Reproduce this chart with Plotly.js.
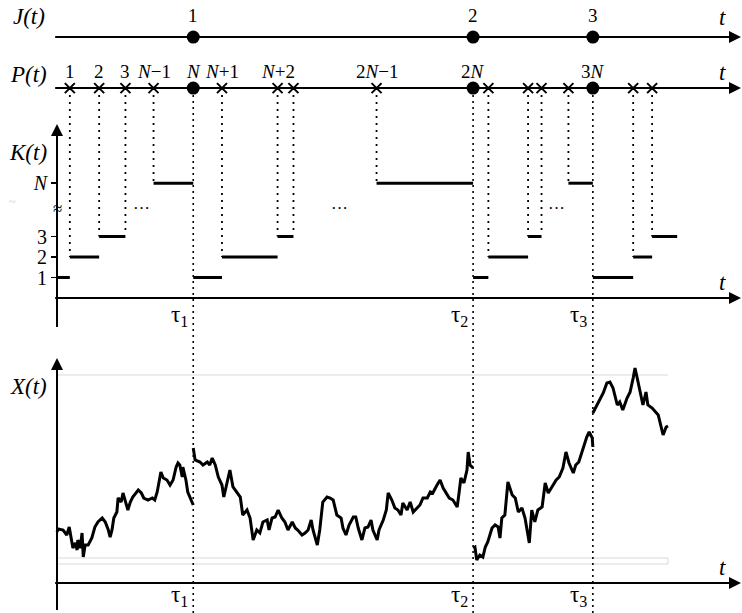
<!DOCTYPE html>
<html><head><meta charset="utf-8">
<script src="https://cdn.plot.ly/plotly-3.0.1.min.js"></script>
<style>html,body{margin:0;padding:0;background:#fff;}#chart{width:742px;height:613px;}</style>
</head><body><div id="chart"></div>
<script>
// ================= DATA =================
// J(t): renewal epochs tau_1..tau_3 (time units, 0..100 = span of X path)
const tauTimes = [22.3, 68.1, 87.7];
const jLabels = ['1', '2', '3'];
// P(t): all point-process events
const pTimes = [2.1, 6.9, 11.2, 15.8, 22.3, 27.0, 36.1, 38.7, 52.3, 68.1, 70.6, 77.1, 79.3, 83.7, 87.7, 94.3, 97.4];
const pLabels = ['1', '2', '3', '<i>N</i>−1', '<i>N</i>', '<i>N</i>+1', '<i>N</i>+2', '', '2<i>N</i>−1', '2<i>N</i>', '', '', '', '', '3<i>N</i>', '', ''];
// K(t): counter steps
const kStart = [0, 2.1, 6.9, 15.8, 22.3, 27.0, 36.1, 52.3, 68.1, 70.6, 77.1, 83.7, 87.7, 94.3, 97.4];
const kEnd   = [2.1, 6.9, 11.2, 22.3, 27.0, 36.1, 38.7, 68.1, 70.6, 77.1, 79.3, 87.7, 94.3, 97.4, 101.5];
const kLevel = ['1', '2', '3', 'N', '1', '2', '3', 'N', '1', '2', '3', 'N', '1', '2', '3'];
const kTickLabels = ['1', '2', '3', 'N'];
const ellipsisTimes = [13.9, 46.3, 81.8];
// X(t): sample path (null = restart at tau)
const pathT = [
 0,0.2,1.0,1.6,2.0,2.3,2.6,3.0,3.3,3.4,3.8,4.1,4.3,4.6,5.1,5.7,6.2,6.7,7.4,7.9,8.4,8.7,9.0,9.3,9.8,10.0,10.5,10.8,11.3,11.6,12.0,12.4,13.3,13.8,14.2,14.9,15.6,16.0,16.4,16.7,17.0,17.4,18.0,18.5,19.0,19.5,19.8,20.1,20.5,20.6,21.1,21.4,22.1,22.3,
 null,
 22.3,22.6,23.4,23.9,24.6,25.0,25.4,25.9,26.4,27.0,27.3,27.7,28.3,28.8,29.5,30.0,30.4,31.1,31.6,32.1,32.7,33.2,33.7,34.4,34.7,35.2,35.7,36.2,36.8,37.3,37.8,38.5,39.0,39.4,40.1,40.6,41.1,41.6,41.9,42.6,43.0,43.5,44.2,44.7,45.2,45.8,46.5,46.8,47.3,47.8,48.5,48.9,49.3,49.9,50.4,50.9,51.4,51.7,52.4,52.7,53.4,53.9,54.2,54.8,55.3,55.8,56.3,56.6,57.3,57.8,58.3,58.9,59.4,59.9,60.6,61.1,61.5,62.2,62.7,63.2,63.7,64.2,64.8,65.5,65.8,66.1,66.6,67.1,67.3,67.6,68.1,
 null,
 68.1,68.4,68.7,69.2,69.7,70.1,70.5,71.2,71.7,72.2,72.5,72.8,73.3,73.8,74.5,75.0,75.5,76.1,76.6,77.3,77.7,78.2,78.7,79.4,79.9,80.4,81.0,81.7,82.2,82.8,83.3,83.8,84.5,84.9,85.4,86.1,86.7,87.1,87.6,87.7,
 null,
 87.7,88.4,88.9,89.4,90.0,90.5,91.0,91.7,92.1,92.6,93.3,93.8,94.3,94.6,95.1,95.6,95.9,96.4,96.7,97.4,97.9,98.4,99.2,99.7,100.0
];
const pathX = [
 2.55,2.70,2.65,2.40,2.80,2.15,1.75,2.00,1.65,2.15,1.75,2.50,1.30,1.90,1.90,2.25,2.80,3.05,3.25,3.05,2.65,2.30,2.65,3.25,3.55,4.25,4.05,4.50,3.90,3.65,4.05,4.30,4.65,4.50,4.25,4.15,4.25,4.15,4.55,5.00,5.55,5.25,5.15,4.90,5.15,5.80,6.00,5.90,5.30,5.80,5.15,4.55,4.00,3.90,
 null,
 6.75,6.15,6.05,5.90,6.05,5.90,6.25,5.90,5.30,4.90,4.30,4.90,5.65,4.80,4.50,4.30,3.40,3.65,3.25,2.15,2.65,2.50,3.05,3.15,2.65,3.25,3.30,3.65,3.25,3.05,2.65,3.05,2.75,2.65,2.40,2.50,2.65,3.15,2.65,1.90,2.65,4.05,4.30,4.25,4.15,3.40,3.25,2.75,2.40,2.90,3.30,3.30,2.75,2.15,2.75,2.80,3.15,2.65,2.15,2.65,3.15,3.65,4.50,4.15,3.75,3.65,3.40,4.00,3.65,4.05,3.55,3.75,3.90,4.25,4.25,4.55,4.50,4.90,5.15,4.75,4.50,4.25,4.15,3.80,4.50,5.25,5.00,5.65,6.55,5.90,5.75,
 null,
 1.75,1.80,1.15,1.40,1.30,1.80,2.05,2.75,2.90,2.80,2.25,3.25,3.40,5.05,4.40,4.25,3.55,3.75,3.25,2.00,3.65,3.05,3.65,3.80,5.00,4.50,4.80,5.15,5.30,5.75,6.55,6.00,5.50,5.90,6.05,6.75,7.30,7.55,7.25,6.80,
 null,
 8.50,8.90,9.25,9.50,10.00,10.05,9.75,8.90,9.05,8.65,9.25,9.55,10.25,10.75,10.05,9.25,8.90,9.55,8.90,8.75,8.55,8.40,7.40,7.80,7.85
];

// ================= LAYOUT CONSTANTS (positions / styles) =================
const FONT = 'Liberation Serif, Times New Roman, serif';
const BLACK = '#000';
const levelPos = {'1': 1, '2': 2, '3': 3, 'N': 5.6};
const rowP = 10.24, rowJ = 12.73;          // rows on the top axis
const breakLevel = 4.39;                   // axis break / ellipsis height
const xRange = [-9.329, 112.111];
const topDom = [0.46166, 1], topRange = [-1.561, 14.537];
const botDom = [0, 0.46166], botRange = [-1.5, 12.65];
const axisStart = -0.3, axisTip = 111.95;
const kAxisTop = 8.49, kAxisBottom = -1.41, xAxisTop = 11.25, xAxisBottom = -1.35;
const bandTop = 10.4, bandLow1 = 1.25, bandLow2 = 0.95, bandEnd = 100;

function topPaper(v) {
  return topDom[0] + (v - topRange[0]) / (topRange[1] - topRange[0]) * (topDom[1] - topDom[0]);
}

// ================= TRACES =================
const kx = [], ky = [];
kStart.forEach((s, i) => { const l = levelPos[kLevel[i]]; kx.push(s, kEnd[i], null); ky.push(l, l, null); });

const dx = [], dy = [];
pTimes.forEach(t => {
  if (tauTimes.includes(t)) return;
  let idx = kStart.indexOf(t), lvl;
  if (idx >= 0) lvl = levelPos[kLevel[idx]];
  else { idx = kEnd.indexOf(t); lvl = levelPos[kLevel[idx]] + 0.32; }
  dx.push(t, t, null); dy.push(rowP, lvl, null);
});

const crossT = pTimes.filter(t => !tauTimes.includes(t));
const axLine = {color: BLACK, width: 2};

const traces = [
  // axis lines
  {x: [axisStart, axisTip - 1, null, axisStart, axisTip - 1, null, axisStart, axisTip - 1, null, 0, 0],
   y: [rowJ, rowJ, null, rowP, rowP, null, 0, 0, null, kAxisBottom, kAxisTop - 0.3],
   xaxis: 'x', yaxis: 'y', mode: 'lines', line: axLine, hoverinfo: 'skip'},
  {x: [axisStart, axisTip - 1, null, 0, 0], y: [0, 0, null, xAxisBottom, xAxisTop - 0.3],
   xaxis: 'x', yaxis: 'y2', mode: 'lines', line: axLine, hoverinfo: 'skip'},
  // arrowheads
  {x: [axisTip, axisTip, axisTip], y: [rowJ, rowP, 0], xaxis: 'x', yaxis: 'y', mode: 'markers',
   marker: {symbol: 'arrow-right', size: 12, color: BLACK, line: {width: 0}}, hoverinfo: 'skip'},
  {x: [axisTip], y: [0], xaxis: 'x', yaxis: 'y2', mode: 'markers',
   marker: {symbol: 'arrow-right', size: 12, color: BLACK, line: {width: 0}}, hoverinfo: 'skip'},
  {x: [0], y: [kAxisTop], xaxis: 'x', yaxis: 'y', mode: 'markers',
   marker: {symbol: 'arrow-up', size: 12, color: BLACK, line: {width: 0}}, hoverinfo: 'skip'},
  {x: [0], y: [xAxisTop], xaxis: 'x', yaxis: 'y2', mode: 'markers',
   marker: {symbol: 'arrow-up', size: 12, color: BLACK, line: {width: 0}}, hoverinfo: 'skip'},
  // data
  {x: dx, y: dy, xaxis: 'x', yaxis: 'y', mode: 'lines', line: {color: BLACK, width: 1.8, dash: '2px,5px'}, hoverinfo: 'skip'},
  {x: kx, y: ky, xaxis: 'x', yaxis: 'y', mode: 'lines', line: {color: BLACK, width: 3}, hoverinfo: 'skip'},
  {x: pathT, y: pathX, xaxis: 'x', yaxis: 'y2', mode: 'lines', connectgaps: false, line: {color: BLACK, width: 3}, hoverinfo: 'skip'},
  {x: tauTimes, y: tauTimes.map(() => rowJ), xaxis: 'x', yaxis: 'y', mode: 'markers', marker: {symbol: 'circle', size: 13, color: BLACK}, hoverinfo: 'skip'},
  {x: tauTimes, y: tauTimes.map(() => rowP), xaxis: 'x', yaxis: 'y', mode: 'markers', marker: {symbol: 'circle', size: 13, color: BLACK}, hoverinfo: 'skip'},
  {x: crossT, y: crossT.map(() => rowP), xaxis: 'x', yaxis: 'y', mode: 'markers', marker: {symbol: 'x-thin-open', size: 10, color: BLACK, line: {color: BLACK, width: 2}}, hoverinfo: 'skip'}
];

// ================= ANNOTATIONS =================
const ann = [];
function label(text, x, y, yref, size, opts, italic) {
  ann.push(Object.assign({x: x, y: y, xref: 'x', yref: yref, text: text, showarrow: false,
    font: {family: FONT, size: size, color: BLACK, style: italic ? 'italic' : 'normal'}}, opts || {}));
}
// row titles
label('J(t)', -4.6, rowJ, 'y', 23, {yshift: 21}, true);
label('P(t)', -4.6, rowP, 'y', 23, {yshift: 14}, true);
label('K(t)', -4.8, 7.12, 'y', 23, {}, true);
label('X(t)', -4.7, 9.85, 'y2', 23, {}, true);
// t labels
label('t', 108.9, rowJ, 'y', 23, {yshift: 20}, true);
label('t', 108.9, rowP, 'y', 23, {yshift: 16}, true);
label('t', 108.9, 0.78, 'y', 23, {}, true);
label('t', 108.9, 0.8, 'y2', 23, {}, true);
// J numbers
tauTimes.forEach((t, i) => label(jLabels[i], t, rowJ, 'y', 19, {yshift: 22}));
// P numbers
pTimes.forEach((t, i) => { if (pLabels[i]) label(pLabels[i], t, rowP, 'y', 19, {yshift: 17}); });
// tau labels
tauTimes.forEach((t, i) => {
  label('τ<sub>' + (i + 1) + '</sub>', t, -0.88, 'y', 23, {xshift: -14});
  label('τ<sub>' + (i + 1) + '</sub>', t, -0.65, 'y2', 23, {xshift: -14});
});
// ellipses and axis break
ellipsisTimes.forEach(t => label('···', t, breakLevel, 'y', 17));
label('≈', 0, breakLevel, 'y', 17);
label('~', -7.3, 4.7, 'y', 12, {font: {family: FONT, size: 12, color: '#cccccc'}});

// ================= SHAPES =================
const shapes = [];
tauTimes.forEach(t => shapes.push({type: 'line', xref: 'x', yref: 'paper', x0: t, x1: t, y0: 0, y1: topPaper(rowP),
  line: {color: BLACK, width: 1.6, dash: '2px,4px'}}));
const grey = {color: '#d9d9d9', width: 1};
shapes.push({type: 'line', xref: 'x', yref: 'y2', x0: 0, x1: bandEnd, y0: bandTop, y1: bandTop, line: grey, layer: 'below'});
shapes.push({type: 'line', xref: 'x', yref: 'y2', x0: 0, x1: bandEnd, y0: bandLow1, y1: bandLow1, line: grey, layer: 'below'});
shapes.push({type: 'line', xref: 'x', yref: 'y2', x0: 0, x1: bandEnd, y0: bandLow2, y1: bandLow2, line: grey, layer: 'below'});
shapes.push({type: 'line', xref: 'x', yref: 'y2', x0: bandEnd, x1: bandEnd, y0: bandLow2, y1: bandLow1, line: grey, layer: 'below'});

const layout = {
  width: 742, height: 613,
  margin: {l: 0, r: 0, t: 0, b: 0, pad: 0},
  paper_bgcolor: '#fff', plot_bgcolor: 'rgba(0,0,0,0)',
  showlegend: false,
  font: {family: FONT, color: BLACK},
  xaxis: {range: xRange, visible: false, fixedrange: true},
  yaxis: {domain: topDom, range: topRange, anchor: 'free', position: 57 / 742, showline: false, showgrid: false,
    zeroline: false, ticks: 'outside', ticklen: 6, tickwidth: 1.5, tickcolor: BLACK,
    tickvals: kTickLabels.map(k => levelPos[k]),
    ticktext: kTickLabels.map(k => k === 'N' ? '<i>N</i>' : k),
    tickfont: {family: FONT, size: 20, color: BLACK}, fixedrange: true},
  yaxis2: {domain: botDom, range: botRange, visible: false, fixedrange: true},
  annotations: ann,
  shapes: shapes
};

Plotly.newPlot('chart', traces, layout, {staticPlot: true, displayModeBar: false});
</script>
</body></html>
